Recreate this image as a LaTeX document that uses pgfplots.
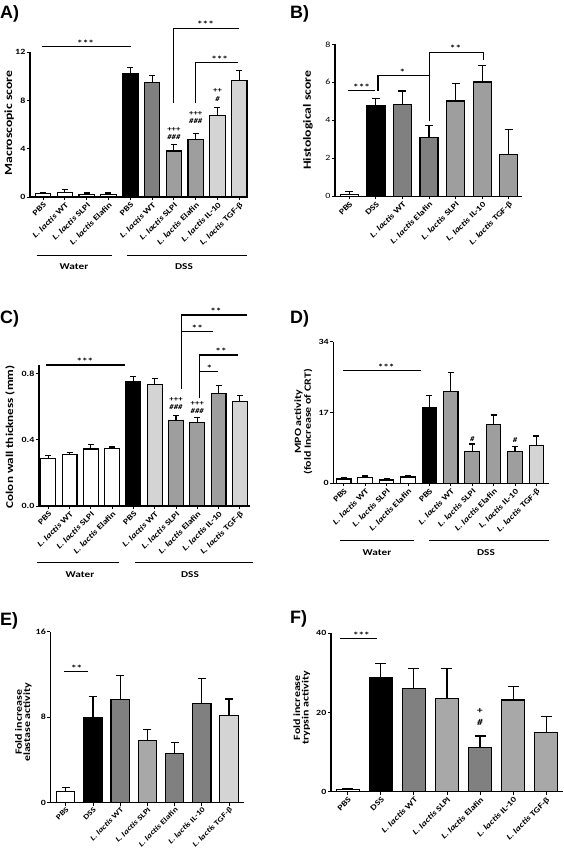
\documentclass[border=0pt]{standalone}
\usepackage{fontspec}
\setmainfont[FakeStretch=1.25]{Carlito}
\newfontfamily\arialf{Liberation Sans}
\usepackage{pgfplots}
\pgfplotsset{compat=1.18}
\definecolor{dg}{gray}{0.50}
\definecolor{mg}{gray}{0.62}
\definecolor{sg}{gray}{0.66}
\definecolor{lg}{gray}{0.83}
\pgfplotsset{
 panel/.style={scale only axis, clip=false, ybar, bar width=0.7,
   axis x line*=bottom, axis y line*=left, axis line style={line width=1.1bp,-},
   tick align=outside, major tick length=3bp,
   tick style={line width=0.9bp,black},
   ymin=0,
   xticklabel style={font=\bfseries\fontsize{8}{9}\selectfont, rotate=45, anchor=north east, inner sep=1bp},
   yticklabel style={font=\bfseries\fontsize{8}{8}\selectfont, inner sep=1.5bp},
   ylabel style={font=\bfseries\fontsize{11}{11}\selectfont, align=center, anchor=center},
 },
 b/.style={bar shift=0pt, draw=black, line width=1.15bp,
   /pgfplots/error bars/y dir=plus, /pgfplots/error bars/y explicit,
   /pgfplots/error bars/error bar style={line width=1.1bp, black},
   /pgfplots/error bars/error mark options={rotate=90, mark size=#1, line width=1.1bp, black}},
}
\tikzset{
 sig/.style={line width=1.2bp},
 st/.style={font=\bfseries\fontsize{9}{9}\selectfont, anchor=base, inner sep=0pt, yshift=0.3bp},
 pm/.style={font=\bfseries\fontsize{7}{7}\selectfont, inner sep=0pt},
}
\newcommand{\LL}{\textit{L. lactis}}
\begin{document}
\begin{tikzpicture}
\useasboundingbox (0,0) rectangle (564bp,-849bp);
% ---------------- A ----------------
\begin{axis}[panel, at={(30bp,-197bp)}, anchor=south west, width=218bp, height=145bp,
  xmin=-0.6, xmax=9.4, ymax=12, bar width=0.71,
  xtick={0,...,9}, xticklabels={PBS,{\LL{} WT},{\LL{} SLPI},{\LL{} Elafin},PBS,{\LL{} WT},{\LL{} SLPI},{\LL{} Elafin},{\LL{} IL-10},{\LL{} TGF-β}},
  ytick={0,4,8,12}, yticklabels={0,4,8,12},
  ylabel={Macroscopic score}, ylabel style={at={(axis description cs:-0.096,0.51)}}]
\addplot[b=3bp, fill=white] coordinates {(0,0.28) +- (0,0.08)};
\addplot[b=3bp, fill=white] coordinates {(1,0.36) +- (0,0.24)};
\addplot[b=3bp, fill=white] coordinates {(2,0.22) +- (0,0.11)};
\addplot[b=3bp, fill=white] coordinates {(3,0.22) +- (0,0.11)};
\addplot[b=3bp, fill=black] coordinates {(4,10.23) +- (0,0.47)};
\addplot[b=3bp, fill=dg] coordinates {(5,9.46) +- (0,0.58)};
\addplot[b=3bp, fill=mg] coordinates {(6,3.81) +- (0,0.55)};
\addplot[b=3bp, fill=mg] coordinates {(7,4.77) +- (0,0.47)};
\addplot[b=3bp, fill=lg] coordinates {(8,6.73) +- (0,0.66)};
\addplot[b=3bp, fill=lg] coordinates {(9,9.66) +- (0,0.82)};
\draw[sig] (axis cs:-0.06,12.44) -- (axis cs:4.04,12.44);
\node[st] at (axis cs:1.95,12.44) {***};
\draw[sig] (axis cs:6,7.76) -- (axis cs:6,13.97) -- (axis cs:9,13.97);
\node[st] at (axis cs:7.45,13.97) {***};
\draw[sig] (axis cs:7,7.76) -- (axis cs:7,11.12) -- (axis cs:8.95,11.12);
\node[st] at (axis cs:8.1,11.12) {***};
\node[pm] at (axis cs:6,5.6) {+++};
\node[pm] at (axis cs:6,4.94) {\itshape\#\#\#};
\node[pm] at (axis cs:7,6.87) {+++};
\node[pm] at (axis cs:7,6.32) {\itshape\#\#\#};
\node[pm] at (axis cs:8,8.77) {++};
\node[pm] at (axis cs:8,8.11) {\itshape\#};
\end{axis}
% ---------------- B ----------------
\begin{axis}[panel, at={(335bp,-196.3bp)}, anchor=south west, width=186.7bp, height=152bp,
  xmin=-0.54, xmax=6.49, ymax=8, bar width=0.68,
  xtick={0,...,6}, xticklabels={PBS,DSS,{\LL{} WT},{\LL{} Elafin},{\LL{} SLPI},{\LL{} IL-10},{\LL{} TGF-β}},
  ytick={0,2,4,6,8}, yticklabels={0,2,4,6,8},
  yticklabel style={font=\fontsize{8}{8}\selectfont},
  ylabel={Histological score}, ylabel style={at={(axis description cs:-0.145,0.50)}}]
\addplot[b=4bp, fill=white] coordinates {(0,0.10) +- (0,0.15)};
\addplot[b=4bp, fill=black] coordinates {(1,4.79) +- (0,0.37)};
\addplot[b=4bp, fill=dg] coordinates {(2,4.84) +- (0,0.70)};
\addplot[b=4bp, fill=dg] coordinates {(3,3.10) +- (0,0.64)};
\addplot[b=4bp, fill=mg] coordinates {(4,5.02) +- (0,0.91)};
\addplot[b=4bp, fill=mg] coordinates {(5,6.02) +- (0,0.87)};
\addplot[b=4bp, fill=mg] coordinates {(6,2.19) +- (0,1.34)};
\draw[sig] (axis cs:-0.04,5.56) -- (axis cs:0.96,5.56);
\node[st] at (axis cs:0.46,5.56) {***};
\draw[sig] (axis cs:1.08,5.56) -- (axis cs:1.08,6.35) -- (axis cs:3.03,6.35);
\node[st] at (axis cs:2.0,6.35) {*};
\draw[sig] (axis cs:3.03,3.96) -- (axis cs:3.03,7.58) -- (axis cs:5.04,7.58) -- (axis cs:5.04,7.17);
\node[st] at (axis cs:4.0,7.58) {**};
\end{axis}
% ---------------- C ----------------
\begin{axis}[panel, at={(39bp,-506bp)}, anchor=south west, width=211bp, height=141bp,
  xmin=-0.44, xmax=9.48, ymax=0.85, bar width=0.7,
  xtick={0,...,9}, xticklabels={PBS,{\LL{} WT},{\LL{} SLPI},{\LL{} Elafin},PBS,{\LL{} WT},{\LL{} SLPI},{\LL{} Elafin},{\LL{} IL-10},{\LL{} TGF-β}},
  ytick={0,0.4,0.8}, yticklabels={0.0,0.4,0.8},
  ylabel={Colon wall thickness (mm)}, ylabel style={at={(axis description cs:-0.137,0.49)}, font=\bfseries\fontsize{10.5}{11}\selectfont}]
\addplot[b=3bp, fill=white] coordinates {(0,0.285) +- (0,0.021)};
\addplot[b=3bp, fill=white] coordinates {(1,0.312) +- (0,0.010)};
\addplot[b=3bp, fill=white] coordinates {(2,0.344) +- (0,0.026)};
\addplot[b=3bp, fill=white] coordinates {(3,0.346) +- (0,0.010)};
\addplot[b=3bp, fill=black] coordinates {(4,0.748) +- (0,0.030)};
\addplot[b=3bp, fill=lg] coordinates {(5,0.734) +- (0,0.032)};
\addplot[b=3bp, fill=mg] coordinates {(6,0.515) +- (0,0.030)};
\addplot[b=3bp, fill=mg] coordinates {(7,0.505) +- (0,0.028)};
\addplot[b=3bp, fill=mg] coordinates {(8,0.679) +- (0,0.045)};
\addplot[b=3bp, fill=lg] coordinates {(9,0.631) +- (0,0.036)};
\draw[sig] (axis cs:-0.11,0.85) -- (axis cs:3.6,0.85);
\node[st] at (axis cs:1.72,0.85) {***};
\draw[sig] (axis cs:6.27,0.703) -- (axis cs:6.27,1.151) -- (axis cs:9.32,1.151);
\node[st] at (axis cs:7.88,1.151) {**};
\draw[sig] (axis cs:6.27,1.051) -- (axis cs:7.75,1.051);
\node[st] at (axis cs:7.0,1.051) {**};
\draw[sig] (axis cs:7.1,0.651) -- (axis cs:7.1,0.91) -- (axis cs:8.93,0.91);
\node[st] at (axis cs:8.12,0.91) {**};
\draw[sig] (axis cs:7.1,0.81) -- (axis cs:7.99,0.81);
\node[st] at (axis cs:7.57,0.81) {*};
\node[pm] at (axis cs:6,0.643) {+++};
\node[pm] at (axis cs:6,0.599) {\itshape\#\#\#};
\node[pm] at (axis cs:7,0.615) {+++};
\node[pm] at (axis cs:7,0.574) {\itshape\#\#\#};
\end{axis}
% ---------------- D ----------------
\begin{axis}[panel, at={(333.3bp,-483.3bp)}, anchor=south west, width=215.7bp, height=141.6bp,
  xmin=-0.49, xmax=9.59, ymax=34, bar width=0.68,
  xtick={0,...,9}, xticklabels={PBS,{\LL{} WT},{\LL{} SLPI},{\LL{} Elafin},PBS,{\LL{} WT},{\LL{} SLPI},{\LL{} Elafin},{\LL{} IL-10},{\LL{} TGF-β}},
  ytick={0,17,34}, yticklabels={0,17,34},
  ylabel={MPO activity\\(fold Increase of CRT)},
  ylabel style={at={(axis description cs:-0.139,0.435)}, font=\bfseries\fontsize{9.6}{8.5}\selectfont}]
\addplot[b=3bp, fill=white] coordinates {(0,1.04) +- (0,0.24)};
\addplot[b=3bp, fill=white] coordinates {(1,1.44) +- (0,0.32)};
\addplot[b=3bp, fill=white] coordinates {(2,0.80) +- (0,0.24)};
\addplot[b=3bp, fill=white] coordinates {(3,1.52) +- (0,0.24)};
\addplot[b=3bp, fill=black] coordinates {(4,18.16) +- (0,2.88)};
\addplot[b=3bp, fill=mg] coordinates {(5,22.0) +- (0,4.56)};
\addplot[b=3bp, fill=mg] coordinates {(6,7.6) +- (0,1.84)};
\addplot[b=3bp, fill=mg] coordinates {(7,14.08) +- (0,2.32)};
\addplot[b=3bp, fill=mg] coordinates {(8,7.6) +- (0,1.28)};
\addplot[b=3bp, fill=lg] coordinates {(9,9.04) +- (0,2.32)};
\draw[sig] (axis cs:-0.05,27.03) -- (axis cs:3.6,27.03);
\node[st] at (axis cs:1.98,27.03) {***};
\node[pm] at (axis cs:6,10.6) {\itshape\#};
\node[pm] at (axis cs:8,10.4) {\itshape\#};
\end{axis}
% ---------------- E ----------------
\begin{axis}[panel, at={(50.5bp,-802.7bp)}, anchor=south west, width=193.5bp, height=171bp,
  xmin=-0.56, xmax=6.55, ymax=16, bar width=0.67,
  xtick={0,...,6}, xticklabels={PBS,DSS,{\LL{} WT},{\LL{} SLPI},{\LL{} Elafin},{\LL{} IL-10},{\LL{} TGF-β}},
  xticklabel style={font=\bfseries\fontsize{7.4}{8}\selectfont, inner sep=0.5bp},
  ytick={0,8,16}, yticklabels={0,8,16},
  ylabel={Fold increase\\elastase activity},
  ylabel style={at={(axis description cs:-0.14,0.47)}, font=\bfseries\fontsize{9.6}{8.5}\selectfont}]
\addplot[b=4bp, fill=white] coordinates {(0,1.03) +- (0,0.37)};
\addplot[b=4bp, fill=black] coordinates {(1,7.95) +- (0,1.97)};
\addplot[b=4bp, fill=dg] coordinates {(2,9.67) +- (0,2.25)};
\addplot[b=4bp, fill=sg] coordinates {(3,5.83) +- (0,1.0)};
\addplot[b=4bp, fill=dg] coordinates {(4,4.62) +- (0,1.03)};
\addplot[b=4bp, fill=dg] coordinates {(5,9.3) +- (0,2.3)};
\addplot[b=4bp, fill=lg] coordinates {(6,8.17) +- (0,1.53)};
\draw[sig] (axis cs:-0.06,12.25) -- (axis cs:0.8,12.25);
\node[st] at (axis cs:0.4,12.25) {**};
\end{axis}
% ---------------- F ----------------
\begin{axis}[panel, at={(331bp,-791.7bp)}, anchor=south west, width=232.3bp, height=158.4bp,
  xmin=-0.51, xmax=6.52, ymax=40, bar width=0.68,
  xtick={0,...,6}, xticklabels={PBS,DSS,{\LL{} WT},{\LL{} SLPI},{\LL{} Elafin},{\LL{} IL-10},{\LL{} TGF-β}},
  ytick={0,20,40}, yticklabels={0,20,40},
  ylabel={Fold increase\\trypsin activity},
  ylabel style={at={(axis description cs:-0.126,0.53)}, font=\bfseries\fontsize{9.6}{8.5}\selectfont}]
\addplot[b=5.5bp, fill=white] coordinates {(0,0.59) +- (0,0.17)};
\addplot[b=5.5bp, fill=black] coordinates {(1,28.9) +- (0,3.5)};
\addplot[b=5.5bp, fill=dg] coordinates {(2,26.0) +- (0,5.2)};
\addplot[b=5.5bp, fill=sg] coordinates {(3,23.6) +- (0,7.6)};
\addplot[b=5.5bp, fill=dg] coordinates {(4,11.2) +- (0,2.86)};
\addplot[b=5.5bp, fill=sg] coordinates {(5,23.16) +- (0,3.44)};
\addplot[b=5.5bp, fill=sg] coordinates {(6,15.0) +- (0,3.9)};
\draw[sig] (axis cs:-0.24,38.7) -- (axis cs:0.89,38.7);
\node[st] at (axis cs:0.41,38.7) {***};
\node[pm, font=\bfseries\fontsize{9}{9}\selectfont] at (axis cs:4,20.4) {+};
\node[pm, font=\bfseries\fontsize{9}{9}\selectfont] at (axis cs:4,17.4) {\itshape\#};
\end{axis}
% ---------------- group labels ----------------
\begin{scope}[line width=1bp, every node/.style={font=\bfseries\fontsize{9}{10}\selectfont, inner sep=0pt}]
\draw (36.7bp,-255bp) -- (111.7bp,-255bp);
\draw (126.7bp,-255bp) -- (246.7bp,-255bp);
\node at (74bp,-266.7bp) {Water};
\node at (184bp,-266.7bp) {DSS};
\draw (37bp,-562bp) -- (119bp,-562bp);
\draw (135bp,-562bp) -- (253bp,-562bp);
\node at (80bp,-574.5bp) {Water};
\node at (190bp,-574.5bp) {DSS};
\draw (340bp,-540.7bp) -- (414.3bp,-540.7bp);
\draw (429.3bp,-540.7bp) -- (549.3bp,-540.7bp);
\node at (377bp,-552.3bp) {Water};
\node at (486bp,-552.3bp) {DSS};
\end{scope}
% ---------------- panel letters ----------------
\begin{scope}[every node/.style={anchor=base west, inner sep=0pt, font=\arialf\bfseries\fontsize{18}{18}\selectfont}]
\node at (0bp,-18.3bp) {A)};
\node at (290bp,-18.3bp) {B)};
\node at (0bp,-323bp) {C)};
\node at (290bp,-323.3bp) {D)};
\node at (0bp,-625bp) {E)};
\node at (290bp,-623.3bp) {F)};
\end{scope}
\end{tikzpicture}
\end{document}
